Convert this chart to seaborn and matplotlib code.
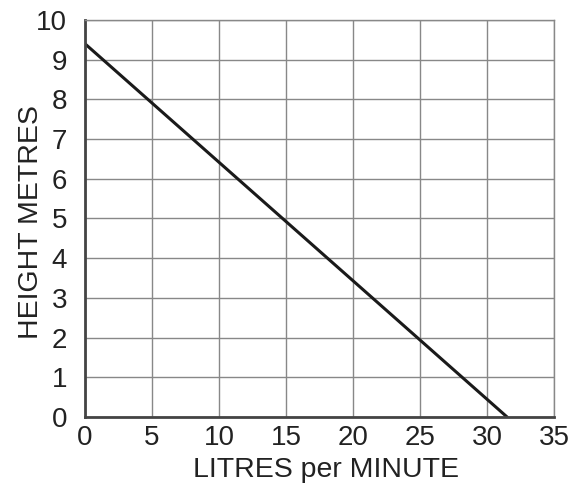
import numpy as np
import pandas as pd
import matplotlib
matplotlib.use('Agg')
import matplotlib.pyplot as plt
import seaborn as sns

# values
litres = [0, 31.5]
height = [9.4, 0]
x_ticks = [0, 5, 10, 15, 20, 25, 30, 35]
y_ticks = [0, 1, 2, 3, 4, 5, 6, 7, 8, 9, 10]

sns.set_style('white')
plt.rcParams['font.family'] = ['Liberation Sans', 'DejaVu Sans']

df = pd.DataFrame({'litres': litres, 'height': height})

fig = plt.figure(figsize=(5.68, 4.86), dpi=100)
ax = fig.add_axes([0.1496, 0.142, 0.8257, 0.817])

sns.lineplot(data=df, x='litres', y='height', color='#1a1a1a', lw=2.2, ax=ax)

ax.set_xlim(0, 35)
ax.set_ylim(0, 10)
ax.set_xticks(x_ticks)
ax.set_yticks(y_ticks)
ax.grid(True, color='#888888', lw=1.0)
ax.set_axisbelow(True)

for side in ['top', 'right']:
    ax.spines[side].set_color('#888888')
    ax.spines[side].set_linewidth(1.0)
for side in ['left', 'bottom']:
    ax.spines[side].set_color('#444444')
    ax.spines[side].set_linewidth(2.0)

ax.tick_params(axis='both', labelsize=20, labelcolor='#222222', direction='out',
               color='#444444', width=2.0, length=0)
ax.tick_params(axis='x', pad=6)
ax.tick_params(axis='y', pad=13)

# small stubs past the origin, like the reference
ax.xaxis.get_major_ticks()[0].tick1line.set_markersize(8)
ax.yaxis.get_major_ticks()[0].tick1line.set_markersize(8)

ax.set_xlabel('LITRES per MINUTE', fontsize=20.5, color='#222222', labelpad=4)
ax.set_ylabel('HEIGHT METRES', fontsize=20.5, color='#222222', labelpad=-6)
ax.xaxis.label.set_x(0.513)
ax.yaxis.label.set_y(0.49)

plt.savefig('out.png', dpi=100)
plt.close()
